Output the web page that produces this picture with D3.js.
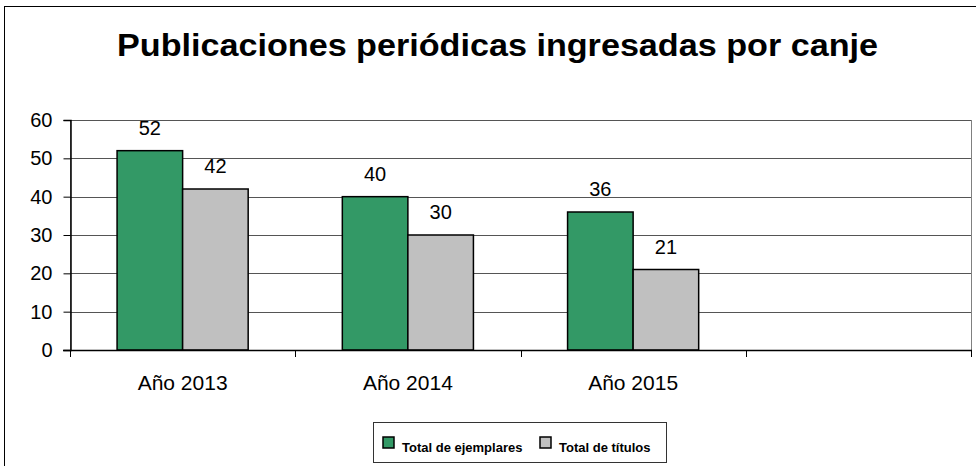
<!DOCTYPE html>
<html>
<head>
<meta charset="utf-8">
<script src="https://cdn.jsdelivr.net/npm/d3@7"></script>
<style>
  body { margin: 0; background: #fff; }
  text { font-family: "Liberation Sans", Arial, sans-serif; fill: #000; }
</style>
</head>
<body>
<main></main>
<script>
// Chart data
const categories = ["Año 2013", "Año 2014", "Año 2015"];
const seriesNames = ["Total de ejemplares", "Total de títulos"];
const ejemplares = [52, 40, 36];
const titulos = [42, 30, 21];
const yTicks = [0, 10, 20, 30, 40, 50, 60];

const seriesColors = ["#339966", "#c0c0c0"];

function drawChart() {
    let width = 976;
    let height = 466;
    const plot = { left: 70, right: 971, top: 120, bottom: 350 };

    const svg = d3.select("main")
        .append("svg")
        .attr("width", width)
        .attr("height", height);

    // outer chart border (cropped at right/bottom like the original)
    svg.append("rect")
        .attr("x", 4.5).attr("y", 6.5)
        .attr("width", 1000).attr("height", 1000)
        .attr("fill", "#fff")
        .attr("stroke", "#000")
        .attr("stroke-width", 1);

    // Title
    svg.append("text")
        .attr("x", 497.5)
        .attr("y", 56)
        .attr("text-anchor", "middle")
        .attr("font-size", 32)
        .attr("font-weight", "bold")
        .attr("textLength", 761)
        .attr("lengthAdjust", "spacingAndGlyphs")
        .text("Publicaciones periódicas ingresadas por canje");

    // the original keeps an empty fourth slot on the category axis
    const x = d3.scaleBand()
        .domain(categories.concat([""]))
        .range([plot.left, plot.right])
        .paddingInner(0)
        .paddingOuter(0);

    const groupW = x.bandwidth() * 0.582;
    const x1 = d3.scaleBand()
        .domain(seriesNames)
        .range([(x.bandwidth() - groupW) / 2, (x.bandwidth() + groupW) / 2]);

    const y = d3.scaleLinear()
        .domain([0, 60])
        .range([plot.bottom, plot.top]);

    // plot area frame
    svg.append("rect")
        .attr("x", plot.left + 0.5).attr("y", plot.top + 0.5)
        .attr("width", plot.right - plot.left).attr("height", plot.bottom - plot.top)
        .attr("fill", "none")
        .attr("stroke", "#808080");

    // gridlines
    svg.append("g")
        .selectAll("line")
        .data(yTicks.filter(d => d > 0))
        .join("line")
        .attr("x1", plot.left).attr("x2", plot.right)
        .attr("y1", d => Math.round(y(d)) + 0.5)
        .attr("y2", d => Math.round(y(d)) + 0.5)
        .attr("stroke", "#555");

    // bars
    const rows = categories.map((c, i) => ({ cat: c, vals: [ejemplares[i], titulos[i]] }));

    const groups = svg.append("g")
        .selectAll("g")
        .data(rows)
        .join("g")
        .attr("transform", d => "translate(" + x(d.cat) + ",0)");

    groups.selectAll("rect")
        .data(d => d.vals.map((v, j) => ({ name: seriesNames[j], v: v, j: j })))
        .join("rect")
        .attr("x", d => x1(d.name))
        .attr("y", d => y(d.v))
        .attr("width", x1.bandwidth())
        .attr("height", d => y(0) - y(d.v))
        .attr("fill", d => seriesColors[d.j])
        .attr("stroke", "#000")
        .attr("stroke-width", 1.5);

    groups.selectAll("text")
        .data(d => d.vals.map((v, j) => ({ name: seriesNames[j], v: v })))
        .join("text")
        .attr("x", d => x1(d.name) + x1.bandwidth() / 2)
        .attr("y", d => y(d.v) - 16)
        .attr("text-anchor", "middle")
        .attr("font-size", 20)
        .text(d => d.v);

    // y axis
    const yAxis = svg.append("g")
        .attr("transform", "translate(" + (plot.left + 0.5) + ",0)")
        .call(d3.axisLeft(y).tickValues(yTicks).tickSize(7).tickPadding(11));
    yAxis.select(".domain").attr("stroke", "#000").attr("stroke-width", 1.5);
    yAxis.selectAll("line").attr("stroke", "#000");
    yAxis.selectAll("text").attr("font-size", 20).attr("font-family", null);

    // x axis: ticks at slot boundaries, labels at slot centers
    const bounds = x.domain().map(d => x(d)).concat([plot.right]);
    const xAxis = svg.append("g");
    xAxis.append("line")
        .attr("x1", plot.left - 7).attr("x2", plot.right + 1)
        .attr("y1", plot.bottom + 0.5).attr("y2", plot.bottom + 0.5)
        .attr("stroke", "#000").attr("stroke-width", 1.5);
    xAxis.selectAll(".tk")
        .data(bounds)
        .join("line")
        .attr("class", "tk")
        .attr("x1", d => Math.round(d) + 0.5).attr("x2", d => Math.round(d) + 0.5)
        .attr("y1", plot.bottom).attr("y2", plot.bottom + 7)
        .attr("stroke", "#000");
    xAxis.selectAll("text")
        .data(categories)
        .join("text")
        .attr("x", d => x(d) + x.bandwidth() / 2)
        .attr("y", 390)
        .attr("text-anchor", "middle")
        .attr("font-size", 21)
        .text(d => d);

    // legend
    const legend = svg.append("g");
    legend.append("rect")
        .attr("x", 373.5).attr("y", 422.5)
        .attr("width", 293).attr("height", 40)
        .attr("fill", "#fff")
        .attr("stroke", "#333");

    const legendX = [383, 540];
    const items = legend.selectAll("g")
        .data(seriesNames)
        .join("g")
        .attr("transform", (d, i) => "translate(" + legendX[i] + ",437)");
    items.append("rect")
        .attr("width", 11).attr("height", 11)
        .attr("fill", (d, i) => seriesColors[i])
        .attr("stroke", "#000")
        .attr("stroke-width", 1.5);
    items.append("text")
        .attr("x", 19)
        .attr("y", 15)
        .attr("font-size", 13)
        .attr("font-weight", "bold")
        .text(d => d);
}

drawChart();
</script>
</body>
</html>
